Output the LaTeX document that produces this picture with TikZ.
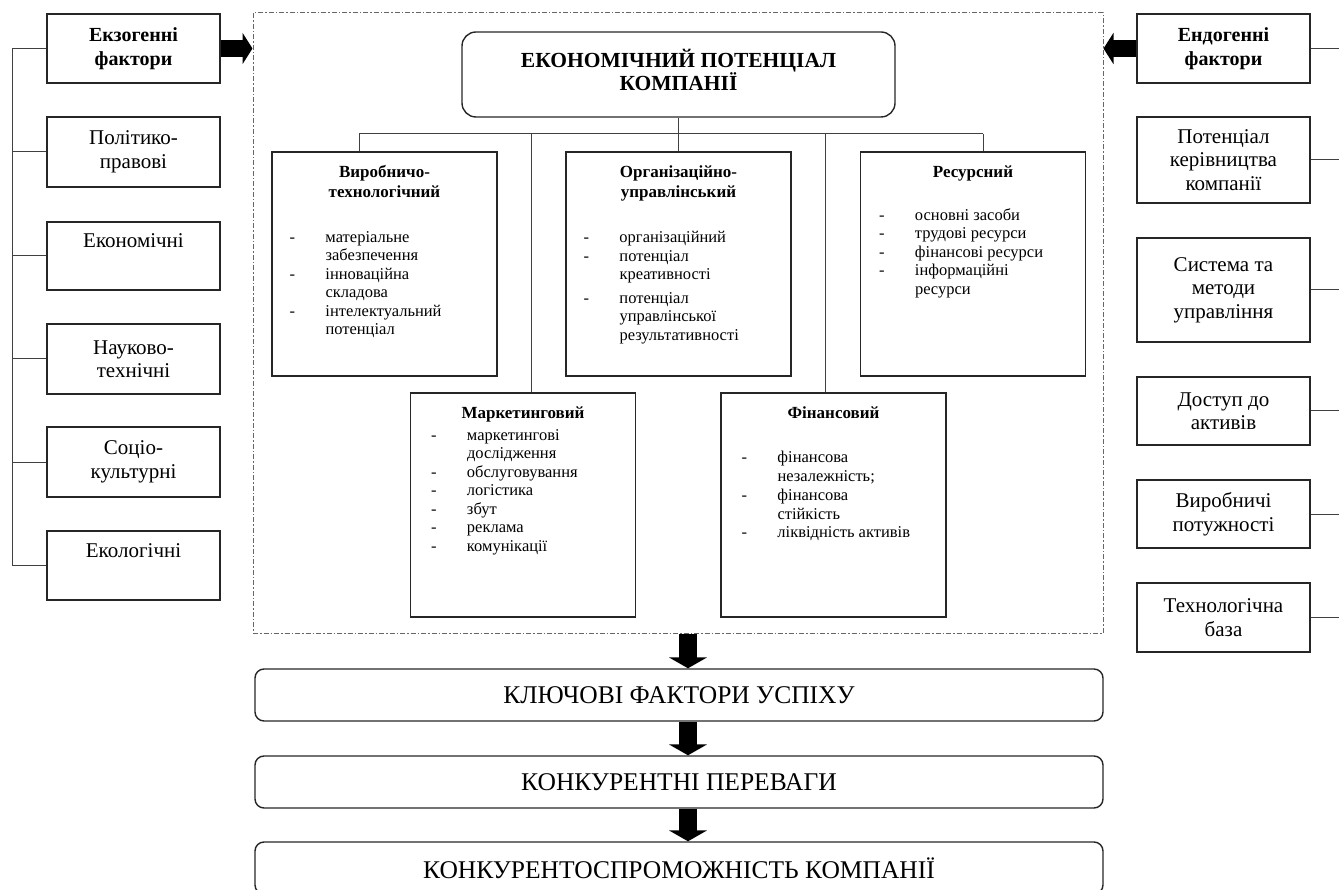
\documentclass[tikz,border=0pt]{standalone}
\usepackage{fontspec}
\setmainfont{Liberation Serif}
\usetikzlibrary{arrows.meta,calc}
\newcommand{\di}[1]{\makebox[36pt][l]{-}#1}
\newcommand{\dc}[1]{\hspace*{36pt}#1}
\begin{document}
\begin{tikzpicture}[x=1pt,y=-1pt,
  bx/.style={draw=black!85, line width=1.4pt, rectangle, inner sep=0pt},
  fbox/.style={bx, minimum width=173pt, align=center, font=\fontsize{21}{23.5}\selectfont},
  fhead/.style={fbox, font=\fontsize{20}{23.5}\selectfont\bfseries},
  mbox/.style={bx, minimum width=225pt, minimum height=224pt},
  mhead/.style={anchor=north, inner sep=0pt, align=center, font=\fontsize{17}{20}\selectfont\bfseries},
  mlist/.style={anchor=north west, inner sep=0pt, align=left, font=\fontsize{16.5}{18.5}\selectfont},
  rbox/.style={draw=black!85, line width=1.4pt, rounded corners=9pt, minimum width=848pt, minimum height=52pt, inner sep=0pt, font=\fontsize{25.5}{27}\selectfont},
  tree/.style={draw=black!75, line width=1pt},
  frame/.style={draw=black!60, line width=1pt, dash pattern=on 5pt off 2pt on 1.5pt off 2pt, minimum width=850pt, minimum height=620pt, inner sep=0pt},
  barrow/.style={line width=18pt, -{Triangle[length=11pt,width=38pt]}, black},
  sarrow/.style={line width=17pt, -{Triangle[length=10pt,width=31pt]}, black}
]
\useasboundingbox (0,0) rectangle (1339,890);

% frame
\node[frame] (fr) at (678,323) {};

% title
\node[bx, rounded corners=14pt, minimum width=433pt, minimum height=85pt] (title) at (678.5,74.5) {};
\node[inner sep=0pt, align=center, font=\fontsize{21.5}{23}\selectfont\bfseries] (titleT) at ($(title.center)+(0,-5)$)
      {ЕКОНОМІЧНИЙ ПОТЕНЦІАЛ\\КОМПАНІЇ};

% middle boxes
\node[mbox] (vir) at (384.5,264) {};
\node[mbox] (org) at (678.5,264) {};
\node[mbox] (res) at (973,264) {};
\node[mbox] (mar) at (523,505) {};
\node[mbox] (fin) at (833.5,505) {};

\node[mhead] (virH) at ($(vir.north)+(0,14)$) {Виробничо-\\технологічний};
\node[mlist] (virL) at ($(vir.north west)+(18,80)$) {\di{матеріальне}\\\dc{забезпечення}\\\di{інноваційна}\\\dc{складова}\\\di{інтелектуальний}\\\dc{потенціал}};

\node[mhead] (orgH) at ($(org.north)+(0,14)$) {Організаційно-\\управлінський};
\node[mlist] (orgL) at ($(org.north west)+(18,80)$) {\di{організаційний}\\\di{потенціал}\\\dc{креативності}\\[5pt]\di{потенціал}\\\dc{управлінської}\\\dc{результативності}};

\node[mhead] (resH) at ($(res.north)+(0,14)$) {Ресурсний};
\node[mlist] (resL) at ($(res.north west)+(19,57)$) {\di{основні засоби}\\\di{трудові ресурси}\\\di{фінансові ресурси}\\\di{інформаційні}\\\dc{ресурси}};

\node[mhead] (marH) at ($(mar.north)+(0,14)$) {Маркетинговий};
\node[mlist] (marL) at ($(mar.north west)+(21,37)$) {\di{маркетингові}\\\dc{дослідження}\\\di{обслуговування}\\\di{логістика}\\\di{збут}\\\di{реклама}\\\di{комунікації}};

\node[mhead] (finH) at ($(fin.north)+(0,14)$) {Фінансовий};
\node[mlist] (finL) at ($(fin.north west)+(21,59)$) {\di{фінансова}\\\dc{незалежність;}\\[1pt]\di{фінансова}\\\dc{стійкість}\\\di{ліквідність активів}};

% tree
\coordinate (tl) at (359,134);
\coordinate (tr) at (983,134);
\coordinate (g1) at (531,134);
\coordinate (g2) at (825,134);
\draw[tree] (tl) -- (tr);
\draw[tree] (title.south) -- (org.north);
\draw[tree] (tl) -- (vir.north -| tl);
\draw[tree] (tr) -- (res.north -| tr);
\draw[tree] (g1) -- (mar.north -| g1);
\draw[tree] (g2) -- (fin.north -| g2);

% left factors
\node[fhead, minimum height=69pt] (exo) at (133.5,48.5) {Екзогенні\\фактори};
\node[fbox, minimum height=70pt] (pol) at (133.5,152) {Політико-\\правові};
\node[fbox, minimum height=68pt] (eco) at (133.5,256) {Економічні\\\strut};
\node[fbox, minimum height=70pt] (nau) at (133.5,359) {Науково-\\технічні};
\node[fbox, minimum height=70pt] (soc) at (133.5,462) {Соціо-\\культурні};
\node[fbox, minimum height=69pt] (ekl) at (133.5,565.5) {Екологічні\\\strut};
\coordinate (spine) at (12,0);
\draw[tree] (exo.west -| spine) -- (ekl.west -| spine);
\foreach \n in {exo,pol,eco,nau,soc,ekl} { \draw[tree] (\n.west) -- (\n.west -| spine); }

% right factors
\node[fhead, minimum height=69pt] (endo) at (1223.5,48.5) {Ендогенні\\фактори};
\node[fbox, minimum height=86pt] (ker) at (1223.5,160) {Потенціал\\керівництва\\компанії};
\node[fbox, minimum height=104pt] (sys) at (1223.5,290) {Система та\\методи\\управління};
\node[fbox, minimum height=68pt] (dos) at (1223.5,411) {Доступ до\\активів};
\node[fbox, minimum height=68pt] (vyr) at (1223.5,514) {Виробничі\\потужності};
\node[fbox, minimum height=69pt] (teh) at (1223.5,617.5) {Технологічна\\база};
\coordinate (redge) at (1339,0);
\foreach \n in {endo,ker,sys,dos,vyr,teh} { \draw[tree] (\n.east) -- (\n.east -| redge); }

% side arrows
\draw[sarrow] (exo.east) -- (exo.east -| fr.west);
\draw[sarrow] (endo.west) -- (endo.west -| fr.east);

% bottom chain
\node[rbox] (k1) at (679,695) {КЛЮЧОВІ ФАКТОРИ УСПІХУ};
\node[rbox] (k2) at (679,782) {КОНКУРЕНТНІ ПЕРЕВАГИ};
\node[rbox] (k3) at (679,868) {КОНКУРЕНТОСПРОМОЖНІСТЬ КОМПАНІЇ};
\coordinate (ax) at (688,0);
\draw[barrow] (fr.south -| ax) -- (k1.north -| ax);
\draw[barrow] (k1.south -| ax) -- (k2.north -| ax);
\draw[barrow] (k2.south -| ax) -- (k3.north -| ax);
\end{tikzpicture}
\end{document}
